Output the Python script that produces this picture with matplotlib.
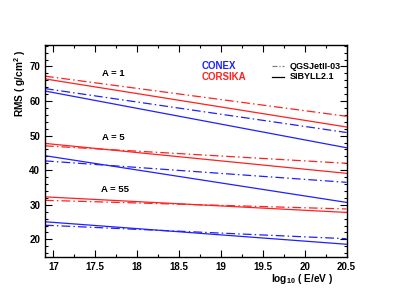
import matplotlib
matplotlib.use("Agg")
import matplotlib.pyplot as plt
from matplotlib.ticker import MultipleLocator
from matplotlib.lines import Line2D

plt.rcParams['font.family'] = ['Liberation Sans', 'DejaVu Sans']
plt.rcParams['font.weight'] = 'bold'
plt.rcParams['mathtext.fontset'] = 'custom'
plt.rcParams['mathtext.rm'] = 'Liberation Sans:bold'
plt.rcParams['mathtext.bf'] = 'Liberation Sans:bold'
plt.rcParams['mathtext.it'] = 'Liberation Sans:bold:italic'

energy = [16.9, 20.5]
# CORSIKA (red)
corsika_qgs = {1: [67.2, 55.6], 5: [47.05, 42.0], 55: [31.3, 28.8]}
corsika_sib = {1: [66.4, 52.5], 5: [47.75, 39.1], 55: [32.3, 27.8]}
# CONEX (blue)
conex_qgs = {1: [63.6, 50.9], 5: [42.7, 36.5], 55: [24.1, 20.2]}
conex_sib = {1: [62.9, 46.5], 5: [44.2, 30.7], 55: [25.1, 18.6]}

mass_labels = ["A = 1", "A = 5", "A = 55"]
label_pos = [(17.71, 66.6), (17.71, 48.3), (17.74, 33.0)]

fig = plt.figure(figsize=(4.15, 2.94), dpi=100)
ax = fig.add_axes([45/415, 1-256.7/294, (346.5-45)/415, (256.7-45)/294])

dashdot = (0, (7, 2.5, 1.2, 2.5))
for A in [1, 5, 55]:
    ax.plot(energy, corsika_qgs[A], color='#ff2020', lw=0.9, ls=dashdot)
    ax.plot(energy, corsika_sib[A], color='#ff2020', lw=0.9, ls='-')
    ax.plot(energy, conex_qgs[A], color='#2020ff', lw=0.9, ls=dashdot)
    ax.plot(energy, conex_sib[A], color='#2020ff', lw=0.9, ls='-')

for txt, (x, y) in zip(mass_labels, label_pos):
    ax.text(x, y, txt, fontsize=6.8, fontweight='bold', ha='center', va='bottom')

ax.set_xlim(16.9, 20.5)
ax.set_ylim(15, 76.2)
ax.xaxis.set_major_locator(MultipleLocator(0.5))
ax.xaxis.set_minor_locator(MultipleLocator(0.25))
ax.yaxis.set_major_locator(MultipleLocator(10))
ax.yaxis.set_minor_locator(MultipleLocator(2))
ax.tick_params(which='both', direction='in', top=True, right=True, width=0.8,
               labelsize=7)
ax.tick_params(which='major', length=5)
ax.tick_params(which='minor', length=2.5)
ax.set_xticks([17, 17.5, 18, 18.5, 19, 19.5, 20, 20.5])
ax.set_xticklabels(['17', '17.5', '18', '18.5', '19', '19.5', '20', '20.5'])
for lab in ax.get_xticklabels() + ax.get_yticklabels():
    lab.set_fontweight('bold')
for s in ax.spines.values():
    s.set_linewidth(1.0)

ax.text(0.52, 0.899, 'CONEX', transform=ax.transAxes, color='#2020ff',
        fontsize=7, fontweight='bold', va='center', ha='left')
ax.text(0.52, 0.849, 'CORSIKA', transform=ax.transAxes, color='#ff2020',
        fontsize=7, fontweight='bold', va='center', ha='left')

# legend
x0, x1 = (271.7-45)/301.5, (283.5-45)/301.5
ax.add_line(Line2D([x0, x1], [0.899, 0.899], transform=ax.transAxes, color='gray',
                   lw=0.9, ls=(0, (4, 1.5, 1, 1.5))))
ax.add_line(Line2D([x0, x1], [0.849, 0.849], transform=ax.transAxes, color='black',
                   lw=0.9, ls='-'))
ax.text((290-45)/301.5, 0.899, 'QGSJetII-03', transform=ax.transAxes,
        fontsize=6.5, fontweight='bold', va='center', ha='left')
ax.text((290-45)/301.5, 0.849, 'SIBYLL2.1', transform=ax.transAxes,
        fontsize=6.5, fontweight='bold', va='center', ha='left')

fig.text(20/415, 1-83/294, 'RMS ( g/cm$^{2}$ )', fontsize=7.3,
         fontweight='bold', rotation=90, ha='center', va='center')
fig.text(302/415, 1-279/294, 'log$_{10}$ ( E/eV )', fontsize=7.3,
         fontweight='bold', ha='center', va='center')

fig.savefig('out.png', dpi=100)
